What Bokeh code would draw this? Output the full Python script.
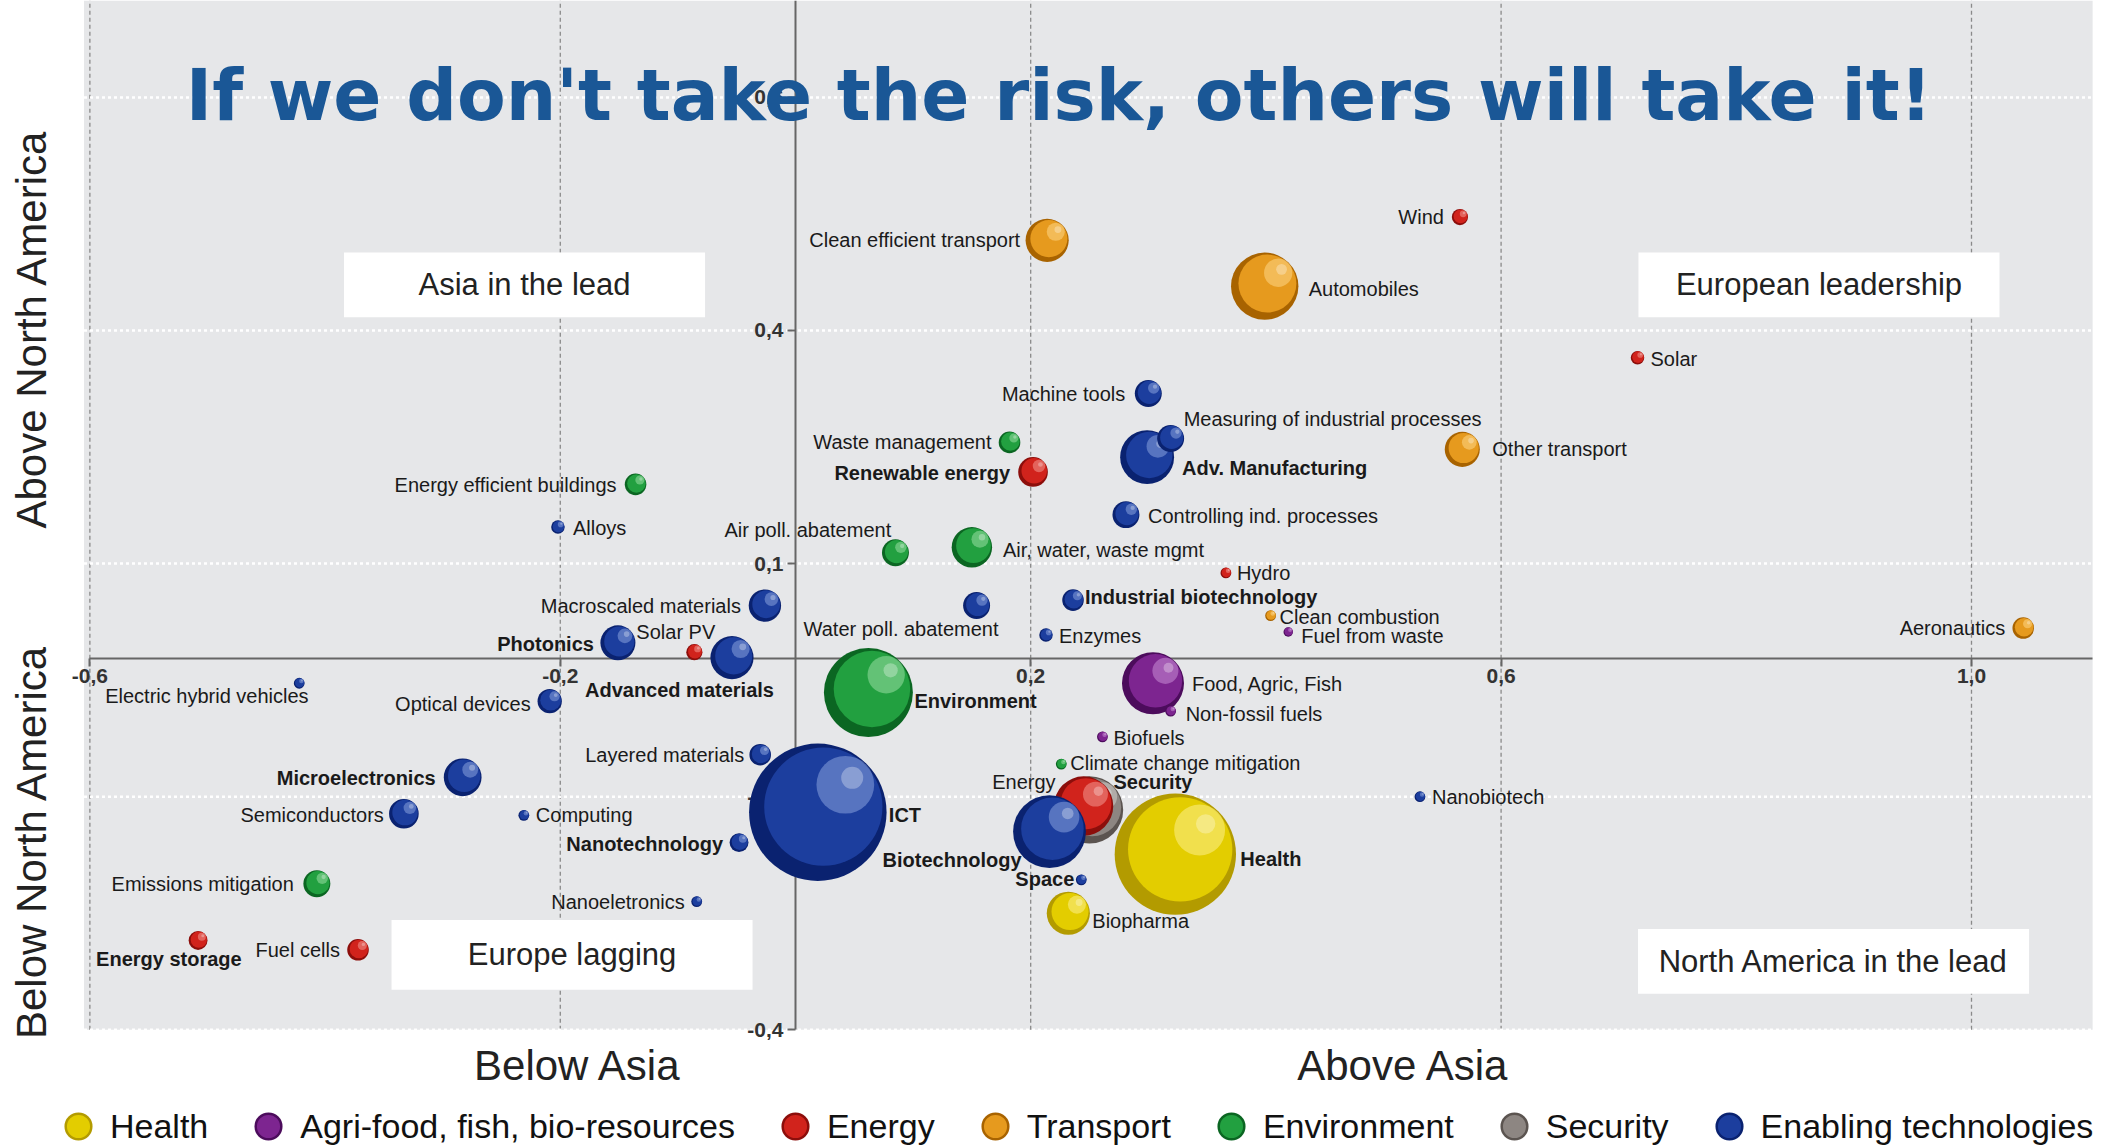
import numpy as np
import pandas as pd
from bokeh.plotting import figure
from bokeh.models import (ColumnDataSource, LinearAxis, FixedTicker, Label, Legend,
                          LegendItem, Range1d)
from bokeh.core.properties import value
from bokeh.embed import file_html
from bokeh.resources import INLINE

# ------------------------------------------------------------------ data
technologies = [
    "ICT", "Health", "Security", "Energy", "Biotechnology", "Environment", "Automobiles",
    "Food, Agric, Fish", "Adv. Manufacturing", "Clean efficient transport", "Biopharma",
    "Advanced materials", "Air, water, waste mgmt", "Microelectronics", "Photonics",
    "Other transport", "Macroscaled materials", "Renewable energy", "Semiconductors",
    "Machine tools", "Measuring of industrial processes", "Controlling ind. processes",
    "Air poll. abatement", "Water poll. abatement", "Emissions mitigation", "Optical devices",
    "Energy efficient buildings", "Waste management", "Aeronautics", "Fuel cells",
    "Layered materials", "Industrial biotechnology", "Energy storage", "Nanotechnology",
    "Wind", "Solar PV", "Solar", "Enzymes", "Alloys", "Clean combustion", "Hydro",
    "Climate change mitigation", "Non-fossil fuels", "Biofuels", "Computing",
    "Nanoeletronics", "Space", "Nanobiotech", "Electric hybrid vehicles", "Fuel from waste",
]
groups = [
    "Enabling technologies", "Health", "Security", "Energy", "Enabling technologies",
    "Environment", "Transport", "Agri-food, fish, bio-resources", "Enabling technologies",
    "Transport", "Health", "Enabling technologies", "Environment", "Enabling technologies",
    "Enabling technologies", "Transport", "Enabling technologies", "Energy",
    "Enabling technologies", "Enabling technologies", "Enabling technologies",
    "Enabling technologies", "Environment", "Enabling technologies", "Environment",
    "Enabling technologies", "Environment", "Environment", "Transport", "Energy",
    "Enabling technologies", "Enabling technologies", "Energy", "Enabling technologies",
    "Energy", "Energy", "Energy", "Enabling technologies", "Enabling technologies",
    "Transport", "Energy", "Environment", "Agri-food, fish, bio-resources",
    "Agri-food, fish, bio-resources", "Enabling technologies", "Enabling technologies",
    "Enabling technologies", "Enabling technologies", "Enabling technologies",
    "Agri-food, fish, bio-resources",
]
# position relative to Asia (x) and to North America (y)
vs_asia = [
    0.019, 0.323, 0.250, 0.245, 0.216, 0.062, 0.399, 0.304, 0.299, 0.214, 0.232,
    -0.054, 0.150, -0.283, -0.151, 0.567, -0.026, 0.202, -0.333, 0.300, 0.319, 0.281,
    0.085, 0.154, -0.407, -0.209, -0.136, 0.182, 1.044, -0.372, -0.030, 0.236, -0.508,
    -0.048, 0.565, -0.086, 0.716, 0.213, -0.202, 0.404, 0.366, 0.226, 0.319, 0.261,
    -0.231, -0.084, 0.243, 0.531, -0.422, 0.419,
]
vs_north_america = [
    -0.220, -0.274, -0.217, -0.212, -0.245, -0.066, 0.457, -0.054, 0.237, 0.516, -0.350,
    -0.021, 0.121, -0.175, -0.002, 0.247, 0.046, 0.218, -0.222, 0.319, 0.261, 0.163,
    0.114, 0.046, -0.312, -0.077, 0.202, 0.256, 0.017, -0.397, -0.146, 0.053, -0.385,
    -0.259, 0.546, -0.014, 0.365, 0.008, 0.147, 0.033, 0.088, -0.158, -0.090, -0.123,
    -0.224, -0.335, -0.307, -0.200, -0.054, 0.012,
]
bubble_weight = [
    51, 45, 25, 22, 27, 33, 25, 23, 20, 16, 16, 16, 15, 14, 13, 13, 12, 11, 11, 10, 10,
    10, 10, 10, 10, 9, 8, 8, 8, 8, 8, 8, 7, 7, 6, 6, 5, 5, 5, 4, 4, 4, 4, 4, 4, 4, 4,
    4, 4, 3.5,
]

legend_groups = ["Health", "Agri-food, fish, bio-resources", "Energy", "Transport",
                 "Environment", "Security", "Enabling technologies"]

x_tick_values = [-0.6, -0.2, 0.2, 0.6, 1.0]
x_tick_labels = ["-0,6", "-0,2", "0,2", "0,6", "1,0"]
y_tick_values = [0.7, 0.4, 0.1, -0.2, -0.5]
y_tick_labels = ["0,6", "0,4", "0,1", "-0,2", "-0,4"]

title_text = "If we don't take the risk, others will take it!"
quadrant_texts = ["Asia in the lead", "European leadership", "Europe lagging",
                  "North America in the lead"]

# ------------------------------------------------------------------ label styles
# offset (px, screen) from bubble centre, alignment, bold
label_dx = [71, 65, 24, -28, -28, 46, 44, 39, 35, -27, 24, -147, 31, -27, -24, 30, -24,
            -23, -20, -23, 13, 22, -171, -173, -23, -19, -19, -18, -18, -18, -16, 12,
            -102, -16, -16, -58, 13, 13, 15, 9, 11, 9, 15, 11, 12, -12, -7, 12, -194, 13]
label_dy = [3, 5, -28, -24, 28, 8, 3, 1, 11, 0, 8, 32, 3, 1, 1, 0, 0, 1, 1, 1, -19, 1,
            -23, 23, 0, 3, 1, 0, 0, 0, 0, -3, 19, 1, 0, -20, 1, 1, 1, 1, 0, -1, 3, 1, 0,
            0, -1, 0, 13, 4]
label_align = ["left" if dx > 0 else "right" for dx in label_dx]
for nm in ["Advanced materials", "Air poll. abatement", "Water poll. abatement",
           "Energy storage", "Solar PV", "Electric hybrid vehicles"]:
    label_align[technologies.index(nm)] = "left"
bold_labels = {"ICT", "Health", "Security", "Biotechnology", "Environment",
               "Adv. Manufacturing", "Advanced materials", "Microelectronics", "Photonics",
               "Renewable energy", "Industrial biotechnology", "Energy storage",
               "Nanotechnology", "Space"}

PALETTE = {
    "Health": ("#b39b00", "#e3cd00", "#fff49a"),
    "Agri-food, fish, bio-resources": ("#4c0c5c", "#7d2590", "#cf98dc"),
    "Energy": ("#8c0e0b", "#d1231c", "#f6a39c"),
    "Transport": ("#a86300", "#e69a1e", "#ffdc90"),
    "Environment": ("#0b6622", "#22a040", "#a4e3ac"),
    "Security": ("#5b5450", "#8d8682", "#d6d1ce"),
    "Enabling technologies": ("#0a2270", "#1c3e9e", "#91a9e2"),
}
FONT = "Liberation Sans"

# ------------------------------------------------------------------ figure
FIG_W, FIG_H = 2114, 1145
X_START, X_END = -0.6760, 1.1216
Y_START, Y_END = -0.6489, 0.8247
PX_X = FIG_W / (X_END - X_START)
PX_Y = FIG_H / (Y_END - Y_START)
GRAY_L, GRAY_R, GRAY_B = -0.605, 1.103, -0.5
X_AXIS_AT = -0.022

p = figure(width=FIG_W, height=FIG_H, x_range=Range1d(X_START, X_END),
           y_range=Range1d(Y_START, Y_END), x_axis_type=None, y_axis_type=None,
           toolbar_location=None, output_backend="svg", title=None, min_border=0,
           outline_line_color=None, background_fill_color="white",
           border_fill_color="white")

# plot area background
p.quad(left=[GRAY_L], right=[GRAY_R], bottom=[GRAY_B], top=[Y_END],
       fill_color="#e6e7e9", line_color=None, level="image")

# grid lines
nx, ny = len(x_tick_values), len(y_tick_values)
p.segment(x0=x_tick_values, x1=x_tick_values, y0=[GRAY_B] * nx, y1=[Y_END] * nx,
          line_color="#8a8a8a", line_dash="4 3", line_width=1.3, level="underlay")
p.segment(x0=[GRAY_L] * ny, x1=[GRAY_R] * ny, y0=y_tick_values, y1=y_tick_values,
          line_color="white", line_dash="3 3", line_width=2.5, level="underlay")

# axes crossing inside the plot
common_axis = dict(axis_line_color="#666666", axis_line_width=2, major_tick_in=0,
                   major_tick_out=8, major_tick_line_color="#666666",
                   major_tick_line_width=2, minor_tick_in=0, minor_tick_out=0,
                   major_label_text_font=FONT, major_label_text_font_size="21px",
                   major_label_text_font_style="bold", major_label_text_color="#333333",
                   level="underlay")
yaxis = LinearAxis(fixed_location=0, ticker=FixedTicker(ticks=y_tick_values),
                   major_label_overrides=dict(zip(y_tick_values, y_tick_labels)),
                   bounds=(GRAY_B, Y_END), major_label_standoff=4, **common_axis)
p.add_layout(yaxis, "left")
xaxis = LinearAxis(fixed_location=X_AXIS_AT, ticker=FixedTicker(ticks=x_tick_values),
                   major_label_overrides=dict(zip(x_tick_values, x_tick_labels)),
                   bounds=(-0.6, GRAY_R), major_label_standoff=3, **common_axis)
p.add_layout(xaxis, "below")

# quadrant boxes
quad_x = [-0.2304, 0.8703, -0.190, 0.8827]
quad_y = [0.4586, 0.4586, -0.4036, -0.412]
quad_w = [0.307, 0.307, 0.307, 0.3325]
quad_h = [0.0834, 0.0834, 0.090, 0.0834]
p.rect(x=quad_x, y=quad_y, width=quad_w, height=quad_h, fill_color="white",
       line_color=None)
p.text(x=quad_x, y=quad_y, text=quadrant_texts, text_align="center",
       text_baseline="middle", text_font=value(FONT), text_font_size="31px",
       text_color="#222222")

# bubbles (shaded, layer by layer for each bubble so overlaps stay correct)
rows = []
for xv, yv, w, g in zip(vs_asia, vs_north_america, bubble_weight, groups):
    dark, main, light = PALETTE[g]
    d = w * 2 * 1.348
    rows.append((xv, yv, d, dark, 1.0))
    o = 0.04 * d
    rows.append((xv + o / PX_X, yv + o / PX_Y, 0.86 * d, main, 1.0))
    o = 0.2 * d
    rows.append((xv + o / PX_X, yv + o / PX_Y, 0.42 * d, light, 0.5))
    o = 0.25 * d
    rows.append((xv + o / PX_X, yv + o / PX_Y, 0.16 * d, "#ffffff", 0.3))
bdf = pd.DataFrame(rows, columns=["x", "y", "size", "color", "alpha"])
p.scatter("x", "y", size="size", fill_color="color", fill_alpha="alpha",
          line_color=None, source=ColumnDataSource(bdf))

# bubble labels (anchor = bubble centre moved by the screen offset)
for align in ["left", "right"]:
    for bold in [False, True]:
        lx, ly, lt = [], [], []
        for i, t in enumerate(technologies):
            if label_align[i] == align and ((t in bold_labels) == bold):
                lx.append(vs_asia[i] + label_dx[i] / PX_X)
                ly.append(vs_north_america[i] - label_dy[i] / PX_Y)
                lt.append(t)
        if not lt:
            continue
        p.text(x=lx, y=ly, text=lt, text_align=align, text_baseline="middle",
               text_font=value(FONT), text_font_style="bold" if bold else "normal",
               text_font_size="20px", text_color="#1a1a1a")

# axis captions
for txt, lx, ly, ang in [("Below Asia", -0.185, -0.546, 0),
                         ("Above Asia", 0.517, -0.546, 0),
                         ("Above North America", -0.650, 0.402, 90),
                         ("Below North America", -0.650, -0.258, 90)]:
    p.add_layout(Label(x=lx, y=ly, text=txt, angle=ang, angle_units="deg",
                       text_align="center", text_baseline="middle", text_font=FONT,
                       text_font_size="42px", text_color="#222222"))

# title
p.add_layout(Label(x=0.224, y=0.702, text=title_text, text_align="center",
                   text_baseline="middle", text_font="DejaVu Sans",
                   text_font_style="bold", text_font_size="71px", text_color="#1a5796"))

# legend
items = []
for g in legend_groups:
    dark, main, light = PALETTE[g]
    r = p.scatter(x=np.array([np.nan]), y=np.array([np.nan]), size=10,
                  fill_color=main, line_color=dark, line_width=2.5)
    items.append(LegendItem(label=g, renderers=[r]))
legend = Legend(items=items, orientation="horizontal", location=(46, -13),
                glyph_width=64, glyph_height=64, label_standoff=0, spacing=28,
                padding=0, margin=0, background_fill_alpha=0, border_line_color=None,
                label_text_font=FONT, label_text_font_size="34px",
                label_text_color="#111111")
p.add_layout(legend)

open("out.html", "w").write(file_html(p, INLINE))
